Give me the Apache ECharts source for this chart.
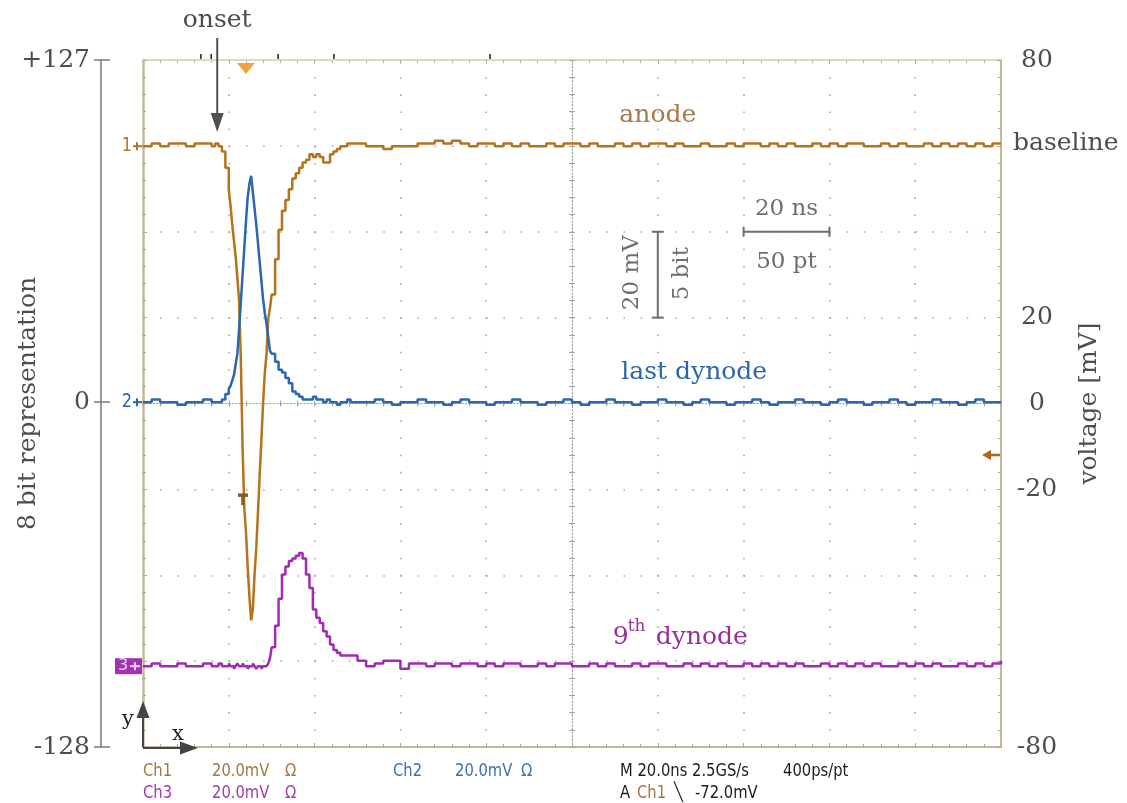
<!DOCTYPE html>
<html>
<head>
<meta charset="utf-8">
<title>PMT pulse: anode, last dynode and 9th dynode</title>
<script src="https://cdn.jsdelivr.net/npm/echarts@6.0.0/dist/echarts.min.js"></script>
<style>
  html, body { margin: 0; padding: 0; background: #ffffff; }
  #chart { width: 1127px; height: 803px; }
</style>
</head>
<body>
<div id="chart"></div>
<script>
// Sample instants in ns across the 200 ns record (denser around the pulse)
const timeNs = [
  0, 2, 4, 6, 8, 10, 12, 14, 16,
  16.8, 17.6, 18.4, 19.2,
  20.0, 20.4, 20.8, 21.2, 21.6, 22.0, 22.4, 22.8, 23.2, 23.6, 24.0, 24.4, 24.8,
  25.2, 25.6, 26.0, 26.4, 26.8, 27.2, 27.6, 28.0, 28.4, 28.8, 29.2, 29.6, 30.0,
  30.8, 31.6, 32.4, 33.2, 34.0, 34.8, 35.6, 36.4, 37.2, 38.0, 38.8, 39.6, 40.4,
  41.2, 42.0, 42.8, 43.6, 44.4, 45.2, 46.0, 46.8, 47.6, 48.4,
  50, 52, 54, 56, 58, 60, 62, 64, 66, 68,
  70, 72, 74, 76, 78, 80, 82, 84, 86, 88,
  90, 92, 94, 96, 98, 100, 102, 104, 106, 108,
  110, 112, 114, 116, 118, 120, 122, 124, 126, 128,
  130, 132, 134, 136, 138, 140, 142, 144, 146, 148,
  150, 152, 154, 156, 158, 160, 162, 164, 166, 168,
  170, 172, 174, 176, 178, 180, 182, 184, 186, 188,
  190, 192, 194, 196, 198, 200
];

// 8-bit ADC codes, channel 1 (anode)
const anodeCodes = [
  95, 96, 95, 96, 96, 95, 96, 96, 95,
  96, 95, 93, 87,
  79, 73, 66, 60, 54, 46, 38, 16, -16, -39, -48, -61, -72,
  -81, -77, -64, -54, -41, -27, -14, 0, 11, 18, 31, 35, 40,
  53, 64, 71, 75, 79, 83, 85, 87, 89, 90, 92, 91, 92,
  91, 89, 89, 92, 93, 94, 95, 95, 96, 96,
  96, 95, 95, 94, 95, 95, 95, 96, 96, 97,
  96, 97, 96, 95, 96, 96, 95, 96, 95, 96,
  95, 95, 96, 95, 96, 96, 95, 96, 95, 95,
  96, 95, 96, 95, 96, 96, 95, 96, 95, 95,
  96, 95, 95, 96, 95, 96, 96, 95, 96, 95,
  96, 95, 95, 96, 95, 96, 95, 96, 96, 95,
  95, 96, 95, 96, 95, 95, 96, 95, 96, 95,
  96, 95, 96, 95, 96, 96
];

// 8-bit ADC codes, channel 2 (last dynode)
const lastDynodeCodes = [
  0, 1, 0, 0, -1, 0, 0, 1, 0,
  0, 0, 1, 3,
  5, 6, 8, 10, 14, 18, 27, 37, 47, 57, 67, 76, 81,
  84, 78, 72, 66, 59, 52, 45, 38, 33, 29, 24, 19, 18,
  15, 12, 11, 9, 7, 4, 3, 2, 1, 1, 1, 2, 1,
  1, 0, 1, 0, 0, -1, 0, 0, 1, 0,
  0, 0, 1, 0, -1, 0, 0, 1, 0, 0,
  -1, 0, 1, 0, 0, -1, 0, 0, 1, 0,
  0, -1, 0, 0, 1, 0, -1, 0, 0, 1,
  0, 0, -1, 0, 0, 1, 0, 0, -1, 0,
  1, 0, 0, -1, 0, 0, 1, 0, -1, 0,
  0, 1, 0, 0, -1, 0, 1, 0, 0, -1,
  0, 0, 1, 0, -1, 0, 0, 1, 0, 0,
  -1, 0, 1, 0, 0, 0
];

// 8-bit ADC codes, channel 3 (9th dynode)
const ninthDynodeCodes = [
  -98, -97, -98, -98, -97, -98, -98, -97, -98,
  -98, -97, -98, -98,
  -97, -98, -98, -99, -98, -97, -98, -98, -97, -98, -98, -99, -98,
  -98, -97, -98, -99, -98, -98, -99, -98, -98, -98, -97, -95, -91,
  -83, -73, -64, -61, -59, -58, -57, -56, -58, -64, -69, -77, -80,
  -82, -85, -87, -90, -92, -93, -94, -94, -94, -94,
  -96, -98, -97, -96, -96, -99, -97, -97, -98, -97,
  -97, -98, -97, -97, -98, -97, -98, -97, -97, -98,
  -98, -97, -98, -97, -97, -98, -98, -97, -98, -97,
  -98, -98, -97, -98, -97, -97, -98, -98, -97, -98,
  -97, -98, -97, -98, -98, -97, -98, -97, -98, -97,
  -98, -97, -98, -98, -97, -98, -97, -98, -97, -98,
  -97, -98, -98, -97, -98, -97, -98, -97, -98, -98,
  -97, -98, -97, -98, -97, -96
];

// Axis tick labels
const voltTickLabels = [80, 20, 0, -20, -80];
const bitTickLabels = [127, 0, -128];

// Acquisition settings shown on screen
const ch1PositionMv = 60;
const triggerLevelMv = -72;
const triggerTimeNs = 24;
const onsetTimeNs = 17.3;
// record-view marks above the top frame (ns)
const recordMarksNs = [13.5, 15.9, 31.5, 44.5, 80.9];

const SERIF = "'DejaVu Serif', 'Liberation Serif', serif";
const SCOPE = "'DejaVu Sans', 'Liberation Sans', sans-serif";
const GREY = '#4d4d4d';
const FRAME = '#c4b99f';
const DOTS = '#a9a9a9';
const C_ANODE = '#b5731c';
const C_LAST = '#2b66b0';
const C_NINTH = '#a22ab4';

const chart = echarts.init(document.getElementById('chart'), null, { renderer: 'canvas' });

const gridDots = { color: DOTS, width: 1.6, type: [1.6, 15.56] };
const centreDots = { color: '#9d9d9d', width: 1.2, type: [1.2, 2.23] };
const noLabel = { show: false };

function trace(name, codes, color) {
  return {
    type: 'line', name: name, xAxisIndex: 0, yAxisIndex: 1,
    data: timeNs.map((t, i) => [t, codes[i]]),
    step: 'end', showSymbol: false, symbol: 'none', silent: true,
    lineStyle: { color: color, width: 2.5 }, z: 5
  };
}

const option = {
  animation: false,
  backgroundColor: '#ffffff',
  grid: { left: 143, right: 126, top: 60, bottom: 56, containLabel: false, outerBoundsMode: 'none' },
  xAxis: [
    { // time, bottom frame and vertical graticule
      type: 'value', min: 0, max: 200, interval: 20, position: 'bottom',
      axisLine: { onZero: false, lineStyle: { color: FRAME, width: 2 } },
      axisTick: { show: true, inside: true, length: 4, lineStyle: { color: '#b3aa93' } },
      minorTick: { show: true, splitNumber: 5, length: 3, lineStyle: { color: '#b3aa93' } },
      axisLabel: noLabel,
      splitLine: { show: true, lineStyle: gridDots }
    },
    { // top frame
      type: 'value', min: 0, max: 200, interval: 20, position: 'top',
      axisLine: { onZero: false, lineStyle: { color: '#cfe2b6', width: 2 } },
      axisTick: { show: true, inside: true, length: 4, lineStyle: { color: '#b3b3b3' } },
      minorTick: { show: true, splitNumber: 5, length: 3, lineStyle: { color: '#b3b3b3' } },
      axisLabel: noLabel, splitLine: { show: false }
    },
    { // centre horizontal line, ticks below
      type: 'value', min: 0, max: 200, interval: 4, position: 'bottom',
      axisLine: { onZero: true, onZeroAxisIndex: 0, lineStyle: centreDots },
      axisTick: { show: true, length: 3, lineStyle: { color: '#a5a5a5' } },
      axisLabel: noLabel, splitLine: { show: false }
    },
    { // centre horizontal line, ticks above
      type: 'value', min: 0, max: 200, interval: 4, position: 'bottom',
      axisLine: { show: false, onZero: true, onZeroAxisIndex: 0 },
      axisTick: { show: true, inside: true, length: 3, lineStyle: { color: '#a5a5a5' } },
      axisLabel: noLabel, splitLine: { show: false }
    },
    { // helper scale centred on the screen, hosts the centre vertical line
      type: 'value', min: -100, max: 100, show: false,
      axisLine: { onZero: false }
    }
  ],
  yAxis: [
    { // voltage, right frame and horizontal graticule
      type: 'value', min: -80, max: 80, interval: 20, position: 'right',
      axisLine: { onZero: false, lineStyle: { color: FRAME, width: 2 } },
      axisTick: { show: true, inside: true, length: 4, lineStyle: { color: '#b3aa93' } },
      minorTick: { show: true, splitNumber: 5, length: 3, lineStyle: { color: '#b3aa93' } },
      axisLabel: {
        show: true, margin: 36, align: 'center',
        fontFamily: SERIF, fontSize: 25, color: GREY,
        formatter: v => (voltTickLabels.indexOf(v) >= 0 ? String(v) : '')
      },
      splitLine: { show: true, lineStyle: gridDots },
      name: 'voltage [mV]', nameLocation: 'middle', nameRotate: 90, nameGap: 76,
      nameMoveOverlap: false,
      nameTextStyle: { fontFamily: SERIF, fontSize: 25, color: GREY }
    },
    { // 8-bit representation, detached on the left
      type: 'value', min: -128, max: 127, position: 'left', offset: 42,
      axisLine: { show: true, onZero: false, lineStyle: { color: '#808080', width: 1.6 } },
      axisTick: { show: true, length: 7, customValues: bitTickLabels, lineStyle: { color: '#808080', width: 1.6 } },
      axisLabel: {
        show: true, margin: 11, customValues: bitTickLabels,
        fontFamily: SERIF, fontSize: 25, color: GREY,
        formatter: v => (v > 0 ? '+' + v : String(v))
      },
      splitLine: { show: false },
      name: '8 bit representation', nameLocation: 'middle', nameRotate: 90, nameGap: 60,
      nameMoveOverlap: false,
      nameTextStyle: { fontFamily: SERIF, fontSize: 25, color: GREY }
    },
    { // inner half of the 8-bit ticks
      type: 'value', min: -128, max: 127, position: 'left', offset: 42,
      axisLine: { show: false, onZero: false },
      axisTick: { show: true, inside: true, length: 9, customValues: bitTickLabels, lineStyle: { color: '#808080', width: 1.6 } },
      axisLabel: { show: false }, splitLine: { show: false }
    },
    { // left frame
      type: 'value', min: -80, max: 80, interval: 20, position: 'left',
      axisLine: { onZero: false, lineStyle: { color: FRAME, width: 2.5 } },
      axisTick: { show: true, inside: true, length: 4, lineStyle: { color: '#b3aa93' } },
      minorTick: { show: true, splitNumber: 5, length: 3, lineStyle: { color: '#b3aa93' } },
      axisLabel: noLabel, splitLine: { show: false }
    },
    { // centre vertical line, ticks to the left
      type: 'value', min: -80, max: 80, interval: 4, position: 'left',
      axisLine: { onZero: true, onZeroAxisIndex: 4, lineStyle: centreDots },
      axisTick: { show: true, length: 3, lineStyle: { color: '#a5a5a5' } },
      axisLabel: noLabel, splitLine: { show: false }
    },
    { // centre vertical line, ticks to the right
      type: 'value', min: -80, max: 80, interval: 4, position: 'left',
      axisLine: { show: false, onZero: true, onZeroAxisIndex: 4 },
      axisTick: { show: true, inside: true, length: 3, lineStyle: { color: '#a5a5a5' } },
      axisLabel: noLabel, splitLine: { show: false }
    }
  ],
  series: [
    trace('anode', anodeCodes, C_ANODE),
    trace('last dynode', lastDynodeCodes, C_LAST),
    trace('9th dynode', ninthDynodeCodes, C_NINTH)
  ]
};

chart.setOption(option);

// Annotations, scale bars, channel markers and the status lines
function overlay() {
  const X = t => chart.convertToPixel({ xAxisIndex: 0 }, t);
  const V = mv => chart.convertToPixel({ yAxisIndex: 0 }, mv);
  const C = code => chart.convertToPixel({ yAxisIndex: 1 }, code);
  const left = X(0), right = X(200), top = V(80), bottom = V(-80);
  const els = [];

  const text = (x, y, s, style, extra) => els.push(Object.assign({
    type: 'text', x: x, y: y, z: 50, silent: true,
    style: Object.assign({
      text: s, fontFamily: SERIF, fontSize: 25, fill: GREY,
      align: 'center', verticalAlign: 'middle'
    }, style || {})
  }, extra || {}));
  const line = (x1, y1, x2, y2, stroke, w) => els.push({
    type: 'line', z: 50, silent: true,
    shape: { x1: x1, y1: y1, x2: x2, y2: y2 },
    style: { stroke: stroke, lineWidth: w || 2 }
  });
  const tri = (pts, fill) => els.push({
    type: 'polygon', z: 50, silent: true, shape: { points: pts }, style: { fill: fill }
  });

  // onset arrow
  const xo = X(onsetTimeNs);
  text(xo, top - 40, 'onset');
  line(xo, top - 22, xo, top + 55, '#505050', 2);
  tri([[xo - 6.5, top + 53], [xo + 6.5, top + 53], [xo, top + 72]], '#505050');

  // trace labels
  text(X(120), V(67), 'anode', { fill: '#a8794a' });
  text(right + 12, C(anodeCodes[0]) - 3, 'baseline', { align: 'left' });
  text(X(128.5), V(7.2), 'last dynode', { fill: '#2c67a9' });
  const xn = X(109.5), yn = V(-54.5);
  text(xn, yn, '9', { fill: '#98309a', align: 'left' });
  text(xn + 15, yn - 11, 'th', { fill: '#98309a', align: 'left', fontSize: 17 });
  text(xn + 43, yn, 'dynode', { fill: '#98309a', align: 'left' });

  // scale bars
  const SB = '#6e6e6e';
  const xs = X(120), ya = V(20), yb = V(40);
  line(xs, ya, xs, yb, SB, 2);
  line(xs - 6, ya, xs + 6, ya, SB, 2);
  line(xs - 6, yb, xs + 6, yb, SB, 2);
  text(xs - 26, (ya + yb) / 2 - 2, '20 mV', { fill: SB, fontSize: 23 }, { rotation: Math.PI / 2 });
  text(xs + 24, (ya + yb) / 2 - 1, '5 bit', { fill: SB, fontSize: 23 }, { rotation: Math.PI / 2 });
  const x1 = X(140), x2 = X(160), yh = V(40);
  line(x1, yh, x2, yh, SB, 2);
  line(x1, yh - 5, x1, yh + 5, SB, 2);
  line(x2, yh - 5, x2, yh + 5, SB, 2);
  text((x1 + x2) / 2, yh - 23, '20 ns', { fill: SB, fontSize: 23 });
  text((x1 + x2) / 2, yh + 30, '50 pt', { fill: SB, fontSize: 23 });

  // record-view marks and trigger position on the top frame
  recordMarksNs.forEach(t => line(X(t), top - 6, X(t), top - 1, '#2a2a2a', 1.6));
  const xt = X(triggerTimeNs);
  tri([[xt - 9, top + 3], [xt + 9, top + 3], [xt, top + 14]], '#f2a23a');
  // trigger point on the anode trace
  const xT = X(23.3), yT = C(-36);
  line(xT - 5, yT - 4, xT + 5, yT - 4, '#8f5a18', 3.5);
  line(xT, yT - 4, xT, yT + 6, '#8f5a18', 3.5);
  // trigger level on the right frame
  const yl = V(ch1PositionMv + triggerLevelMv);
  line(right - 12, yl, right - 1, yl, '#b0651c', 2.5);
  tri([[right - 19, yl], [right - 10, yl - 5], [right - 10, yl + 5]], '#b0651c');

  // channel ground markers
  const m1 = C(anodeCodes[0]), m2 = C(lastDynodeCodes[0]), m3 = C(ninthDynodeCodes[0]);
  const mk = (y, n, col) => {
    text(left - 16, y, n, { fontFamily: SCOPE, fontSize: 19, fill: col }, { scaleX: 0.85 });
    line(left - 10, y, left - 1, y, col, 2);
    line(left - 6, y - 4, left - 6, y + 4, col, 2);
  };
  mk(m1, '1', C_ANODE);
  mk(m2, '2', C_LAST);
  els.push({ type: 'rect', z: 49, silent: true,
    shape: { x: left - 28, y: m3 - 8, width: 27, height: 16 }, style: { fill: '#a233b0' } });
  text(left - 20, m3, '3', { fontFamily: SCOPE, fontSize: 16, fill: '#ecd0f1' });
  line(left - 13, m3, left - 3, m3, '#ecd0f1', 2);
  line(left - 8, m3 - 4, left - 8, m3 + 4, '#ecd0f1', 2);

  // x / y orientation arrows
  const AR = '#444444';
  line(left, bottom, left, bottom - 31, AR, 2);
  tri([[left - 6.5, bottom - 29], [left + 6.5, bottom - 29], [left, bottom - 46]], AR);
  line(left, bottom + 1, left + 39, bottom + 1, AR, 2);
  tri([[left + 37, bottom - 5.5], [left + 37, bottom + 7.5], [left + 55, bottom + 1]], AR);
  text(left - 15, bottom - 27, 'y', { fill: '#222222', fontSize: 21 });
  text(left + 35, bottom - 12, 'x', { fill: '#222222', fontSize: 21 });

  // oscilloscope status lines
  const s = (x, y, str, fill) => text(x, y, str,
    { fontFamily: SCOPE, fontSize: 18, fill: fill, align: 'left' }, { scaleX: 0.82 });
  const r1 = 771, r2 = 793;
  const BR = '#a47640', BL = '#3c70b4', PU = '#a03bb0', BK = '#1c1c1c';
  s(143, r1, 'Ch1', BR); s(212, r1, '20.0mV', BR); s(285, r1, 'Ω', BR);
  s(393, r1, 'Ch2', BL); s(455, r1, '20.0mV', BL); s(521, r1, 'Ω', BL);
  s(620, r1, 'M 20.0ns 2.5GS/s', BK); s(783, r1, '400ps/pt', BK);
  s(143, r2, 'Ch3', PU); s(212, r2, '20.0mV', PU); s(285, r2, 'Ω', PU);
  s(620, r2, 'A', BK); s(637, r2, 'Ch1', BR); s(674, r2, '\u2572', BK); s(695, r2, '-72.0mV', BK);

  chart.setOption({ graphic: { elements: els } });
}

overlay();
</script>
</body>
</html>
